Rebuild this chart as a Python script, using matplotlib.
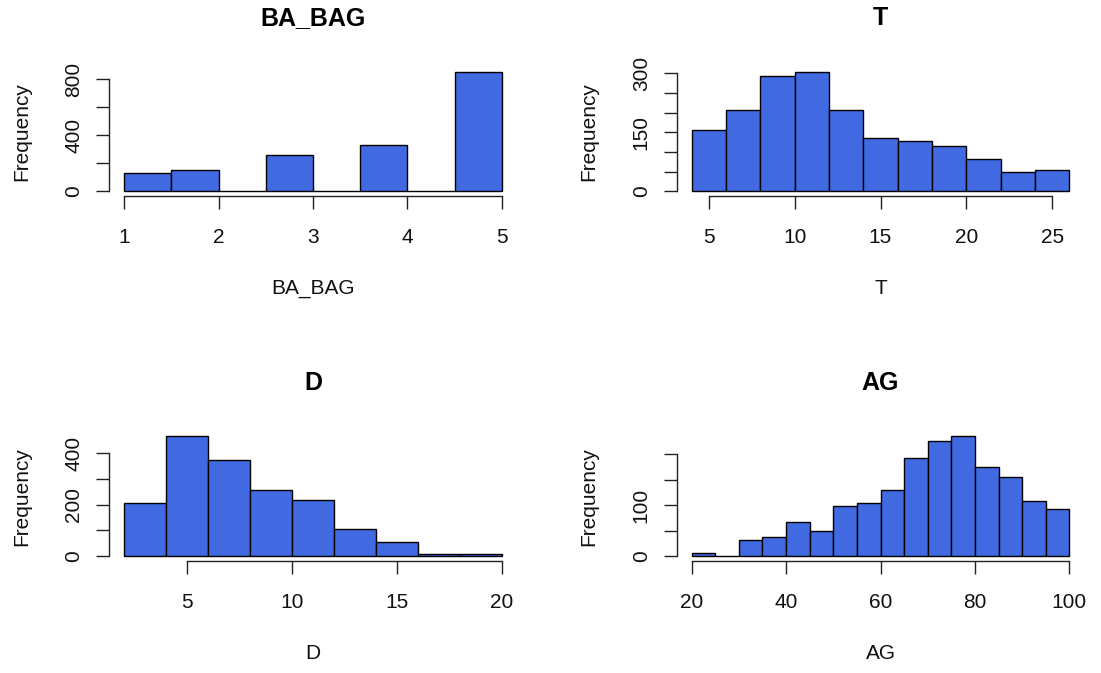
import numpy as np
import matplotlib
matplotlib.use("Agg")
import matplotlib.pyplot as plt

plt.rcParams["font.family"] = ["Liberation Sans", "DejaVu Sans"]

# Histogram bin edges and counts for each variable
ba_bag_edges = [1.0, 1.5, 2.0, 2.5, 3.0, 3.5, 4.0, 4.5, 5.0]
ba_bag_counts = [128, 150, 0, 255, 0, 333, 0, 852]

t_edges = [4, 6, 8, 10, 12, 14, 16, 18, 20, 22, 24, 26]
t_counts = [156, 206, 292, 304, 206, 136, 128, 115, 83, 49, 53]

d_edges = [2, 4, 6, 8, 10, 12, 14, 16, 18, 20]
d_counts = [206, 465, 375, 256, 219, 106, 54, 10, 10]

ag_edges = [20, 25, 30, 35, 40, 45, 50, 55, 60, 65, 70, 75, 80, 85, 90, 95, 100]
ag_counts = [6, 0, 31, 37, 67, 50, 98, 105, 129, 193, 225, 235, 174, 155, 108, 92]

# Axis ticks and the labels shown at them
ba_bag_xticks = [1, 2, 3, 4, 5]
ba_bag_yticks = [0, 200, 400, 600, 800]
ba_bag_ylabels = ["0", "", "400", "", "800"]

t_xticks = [5, 10, 15, 20, 25]
t_yticks = [0, 50, 100, 150, 200, 250, 300]
t_ylabels = ["0", "", "", "150", "", "", "300"]

d_xticks = [5, 10, 15, 20]
d_yticks = [0, 100, 200, 300, 400]
d_ylabels = ["0", "", "200", "", "400"]

ag_xticks = [20, 40, 60, 80, 100]
ag_yticks = [0, 50, 100, 150, 200]
ag_ylabels = ["0", "", "100", "", ""]

panels = [
    ("BA_BAG", ba_bag_edges, ba_bag_counts, ba_bag_xticks, ba_bag_yticks, ba_bag_ylabels),
    ("T", t_edges, t_counts, t_xticks, t_yticks, t_ylabels),
    ("D", d_edges, d_counts, d_xticks, d_yticks, d_ylabels),
    ("AG", ag_edges, ag_counts, ag_xticks, ag_yticks, ag_ylabels),
]

W, H = 1101, 673
fig = plt.figure(figsize=(W / 100, H / 100), dpi=100)

# Plot regions in pixels: (left, right) and (top, bottom)
cols = [(109.0, 517.0), (676.5, 1084.5)]
rows = [(67.0, 196.0), (431.5, 561.0)]

FILL = "#4169E1"
TICK_LEN = 13 * 0.72  # points
LBL = 15
TTL = 18

for i, (name, edges, counts, xt, yt, ylbl) in enumerate(panels):
    x0, x1 = cols[i % 2]
    y0, y1 = rows[i // 2]
    ax = fig.add_axes([x0 / W, 1 - y1 / H, (x1 - x0) / W, (y1 - y0) / H])

    edges = np.asarray(edges, dtype=float)
    counts = np.asarray(counts, dtype=float)
    ax.bar(edges[:-1], counts, width=np.diff(edges), align="edge",
           color=FILL, edgecolor="black", linewidth=1.0)

    # R-style 4% padding around the data range
    xr = edges[-1] - edges[0]
    ax.set_xlim(edges[0] - 0.04 * xr, edges[-1] + 0.04 * xr)
    ymax = counts.max()
    ax.set_ylim(-0.04 * ymax, 1.04 * ymax)

    for s in ("top", "right"):
        ax.spines[s].set_visible(False)
    for s in ("left", "bottom"):
        ax.spines[s].set_linewidth(1.0)
        ax.spines[s].set_color("#222222")
    ax.spines["bottom"].set_bounds(xt[0], xt[-1])
    ax.spines["left"].set_bounds(yt[0], yt[-1])

    ax.set_xticks(xt)
    ax.set_xticklabels([str(v) for v in xt])
    ax.set_yticks(yt)
    ax.set_yticklabels(ylbl)

    ax.tick_params(axis="both", direction="out", length=TICK_LEN, width=1.0,
                   color="#222222", labelsize=LBL, labelcolor="#111111")
    ax.tick_params(axis="x", pad=46.5 * 0.72 - TICK_LEN)
    ax.tick_params(axis="y", pad=29.7 * 0.72 - TICK_LEN)
    for lab in ax.get_xticklabels():
        lab.set_verticalalignment("baseline")
    for lab in ax.get_yticklabels():
        lab.set(rotation=90, rotation_mode="anchor", ha="center", va="baseline")

    ax.set_title(name, fontsize=TTL, fontweight="bold", pad=42 * 0.72)

    ph = y1 - y0
    pw = x1 - x0
    ax.set_xlabel(name, fontsize=LBL, va="baseline", color="#111111")
    ax.xaxis.set_label_coords(0.5, -98 / ph)
    ax.set_ylabel("Frequency", fontsize=LBL, rotation=90, rotation_mode="anchor",
                  ha="center", va="baseline", color="#111111")
    ax.yaxis.set_label_coords(-82 / pw, 0.5)

fig.savefig("out.png", dpi=100)
